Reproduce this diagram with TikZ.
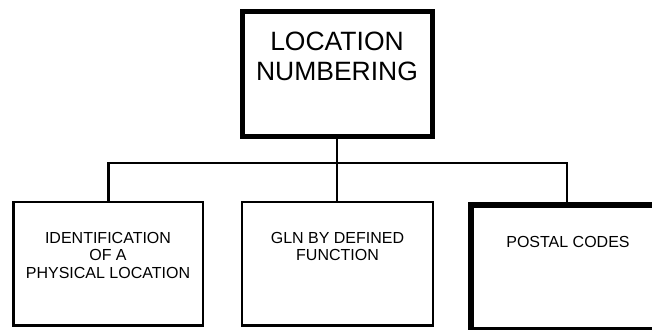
\documentclass[tikz,border=0pt]{standalone}
\usepackage{fontspec}
\setmainfont{Liberation Sans}
\begin{document}
\begin{tikzpicture}[x=1pt,y=-1pt,
  box/.style={draw=black,line width=2.5pt,minimum width=#1,minimum height=123.5pt,inner sep=0pt,fill=white},
  bigtxt/.style={font=\fontsize{26.5}{30}\selectfont,align=center,inner sep=0pt,anchor=base},
  smalltxt/.style={font=\fontsize{16}{17.5}\selectfont,align=center,inner sep=0pt,anchor=base},
  conn/.style={draw=black,line width=2.5pt}]
\useasboundingbox (0,0) rectangle (652,329);
\clip (0,0) rectangle (652,329);
\coordinate (bus) at (0,163);
\node[draw=black,line width=5pt,minimum width=190pt,minimum height=124.5pt,inner sep=0pt] (top) at (337,73.75) {};
\node[box=189.5pt] (b1) at (108.25,263.75) {};
\node[box=191pt] (b2) at (337.5,263.75) {};
\node[draw=black,line width=6pt,minimum width=193pt,minimum height=125pt,inner sep=0pt] (b3) at (567,267.5) {};
\draw[conn] (top.south) -- (top.south |- b2.north);
\draw[conn] (b1.north) |- (bus -| b3.north) -- (b3.north);
\node[bigtxt] (t0) at (337,80) {LOCATION\\NUMBERING};
\node[smalltxt] (t1) at (108,278) {IDENTIFICATION\\OF A\\PHYSICAL LOCATION};
\node[smalltxt] (t2) at (337.5,260.5) {GLN BY DEFINED\\FUNCTION};
\node[smalltxt] (t3) at (568,247) {POSTAL CODES};
\end{tikzpicture}
\end{document}
